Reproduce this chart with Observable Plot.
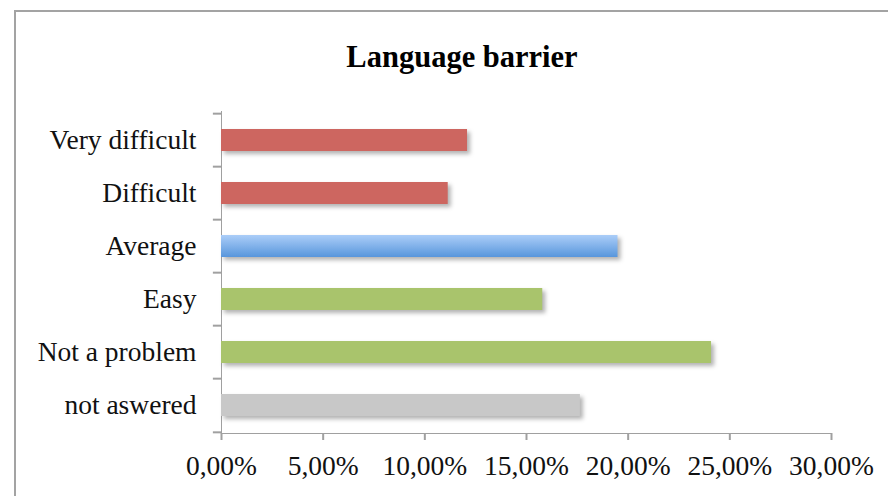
<!DOCTYPE html>
<html>
<head>
<meta charset="utf-8">
<script src="https://cdn.jsdelivr.net/npm/d3@7"></script>
<script src="https://cdn.jsdelivr.net/npm/@observablehq/plot@0.6"></script>
<style>
  html, body { margin: 0; padding: 0; background: #fff; overflow: hidden; width: 888px; height: 496px; }
  #frame { position: absolute; left: 14px; top: 10px; width: 1000px; height: 1000px; border-left: 2px solid #a3a3a3; border-top: 2px solid #a3a3a3; box-sizing: border-box; }
  #title { position: absolute; left: 0; top: 0; width: 924px; height: 100px; text-align: center; font-family: "Liberation Serif", serif; font-weight: bold; font-size: 30.5px; line-height: 114px; color: #000; }
  #chart { position: absolute; left: 0; top: 100px; }
  #chart svg text { fill: #111; }
  #chart svg g[aria-label="bar"] rect { filter: drop-shadow(3px 3px 2px rgba(0,0,0,0.3)); }
</style>
</head>
<body>
<div id="frame"></div>
<div id="title">Language barrier</div>
<div id="chart"></div>
<script>
const categories = ["Very difficult", "Difficult", "Average", "Easy", "Not a problem", "not aswered"];
const values = [12.1, 11.15, 19.5, 15.8, 24.1, 17.65];
const groups = ["hard", "hard", "average", "easy", "easy", "none"];
const xTicks = [0, 5, 10, 15, 20, 25, 30];

const data = categories.map((c, i) => ({category: c, value: values[i], group: groups[i]}));

const W = 888, H = 396, mTop = 11, mBottom = 63, mLeft = 221, mRight = 57;
const step = (H - mTop - mBottom) / categories.length;
const axisColor = "#a0a0a0";

const plot = Plot.plot({
  width: W,
  height: H,
  marginTop: mTop,
  marginBottom: mBottom,
  marginLeft: mLeft,
  marginRight: mRight,
  style: {fontFamily: "'Liberation Serif', serif", fontSize: "27.5px", color: axisColor, background: "transparent", overflow: "visible"},
  x: {domain: [0, 30], ticks: xTicks, tickSize: 7, tickPadding: 15, tickFormat: d => d.toFixed(2).replace(".", ",") + "%", line: true, label: null},
  y: {domain: categories, paddingInner: 0.59, paddingOuter: 0.295, tickSize: 0, tickPadding: 25, line: true, label: null},
  color: {domain: ["hard", "average", "easy", "none"], range: ["#cd6660", "url(#blueGrad)", "#a9c46c", "#c8c8c8"]},
  marks: [
    Plot.barX(data, {x: "value", y: "category", fill: "group"}),
    Plot.ruleY(categories, {y: d => d, x1: -0.4, x2: 0, stroke: axisColor, strokeWidth: 2, dy: -step / 2, clip: false}),
    Plot.ruleY(categories.slice(-1), {y: d => d, x1: -0.4, x2: 0, stroke: axisColor, strokeWidth: 2, dy: step / 2, clip: false})
  ]
});

const defs = d3.select(plot).insert("defs", ":first-child");
const grad = defs.append("linearGradient").attr("id", "blueGrad").attr("x1", 0).attr("y1", 0).attr("x2", 0).attr("y2", 1);
grad.append("stop").attr("offset", "0%").attr("stop-color", "#abcdf8");
grad.append("stop").attr("offset", "100%").attr("stop-color", "#5896dc");

d3.select(plot).selectAll("[aria-label='x-axis line'], [aria-label='y-axis line'], [aria-label='x-axis tick'] path, [aria-label='x-axis tick']").attr("stroke-width", 2);

document.getElementById("chart").appendChild(plot);
</script>
</body>
</html>
